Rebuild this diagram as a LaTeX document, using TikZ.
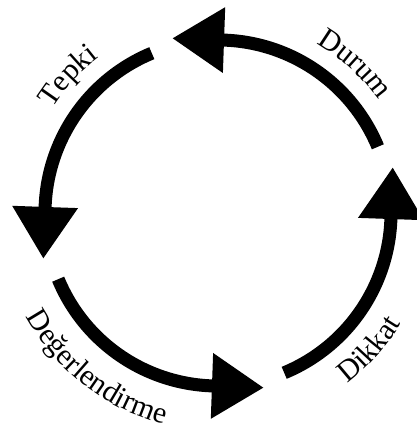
\documentclass[tikz,border=0pt]{standalone}
\usepackage{fontspec}
\setmainfont{Liberation Serif}
\usetikzlibrary{arrows.meta, decorations.text}

\newcommand{\cyclefont}{\fontsize{30}{34}\selectfont}

\begin{document}
\begin{tikzpicture}[x=1pt, y=1pt,
    cyclearrow/.style={line width=13pt, -{Triangle[width=62pt, length=52pt]}},
    outerlabel/.style={decorate, decoration={text along path, text align=center,
        text={|\cyclefont|#1}}},
    innerlabel/.style={decorate, decoration={text along path, text align=center,
        text={|\cyclefont|#1}}}]
  \useasboundingbox (0,0) rectangle (416,435);
  \coordinate (c) at (218,222);
  \begin{scope}[shift={(c)}]
    % the four arcs of the cycle
    \foreach \a in {22.5, 112.5, 202.5, 292.5}
      \draw[cyclearrow] (\a:173) arc[start angle=\a, end angle=\a+65.5, radius=173]
        -- ++(\a+155.5:52);
    % labels along the circle
    \path[outerlabel=Durum] (87.5:196) arc[start angle=87.5, end angle=7.5, radius=196];
    \path[outerlabel=Tepki] (177.5:196) arc[start angle=177.5, end angle=97.5, radius=196];
    \path[innerlabel=Değerlendirme] (190:218) arc[start angle=190, end angle=274, radius=218];
    \path[innerlabel=Dikkat] (278:214) arc[start angle=278, end angle=358, radius=214];
  \end{scope}
\end{tikzpicture}
\end{document}
